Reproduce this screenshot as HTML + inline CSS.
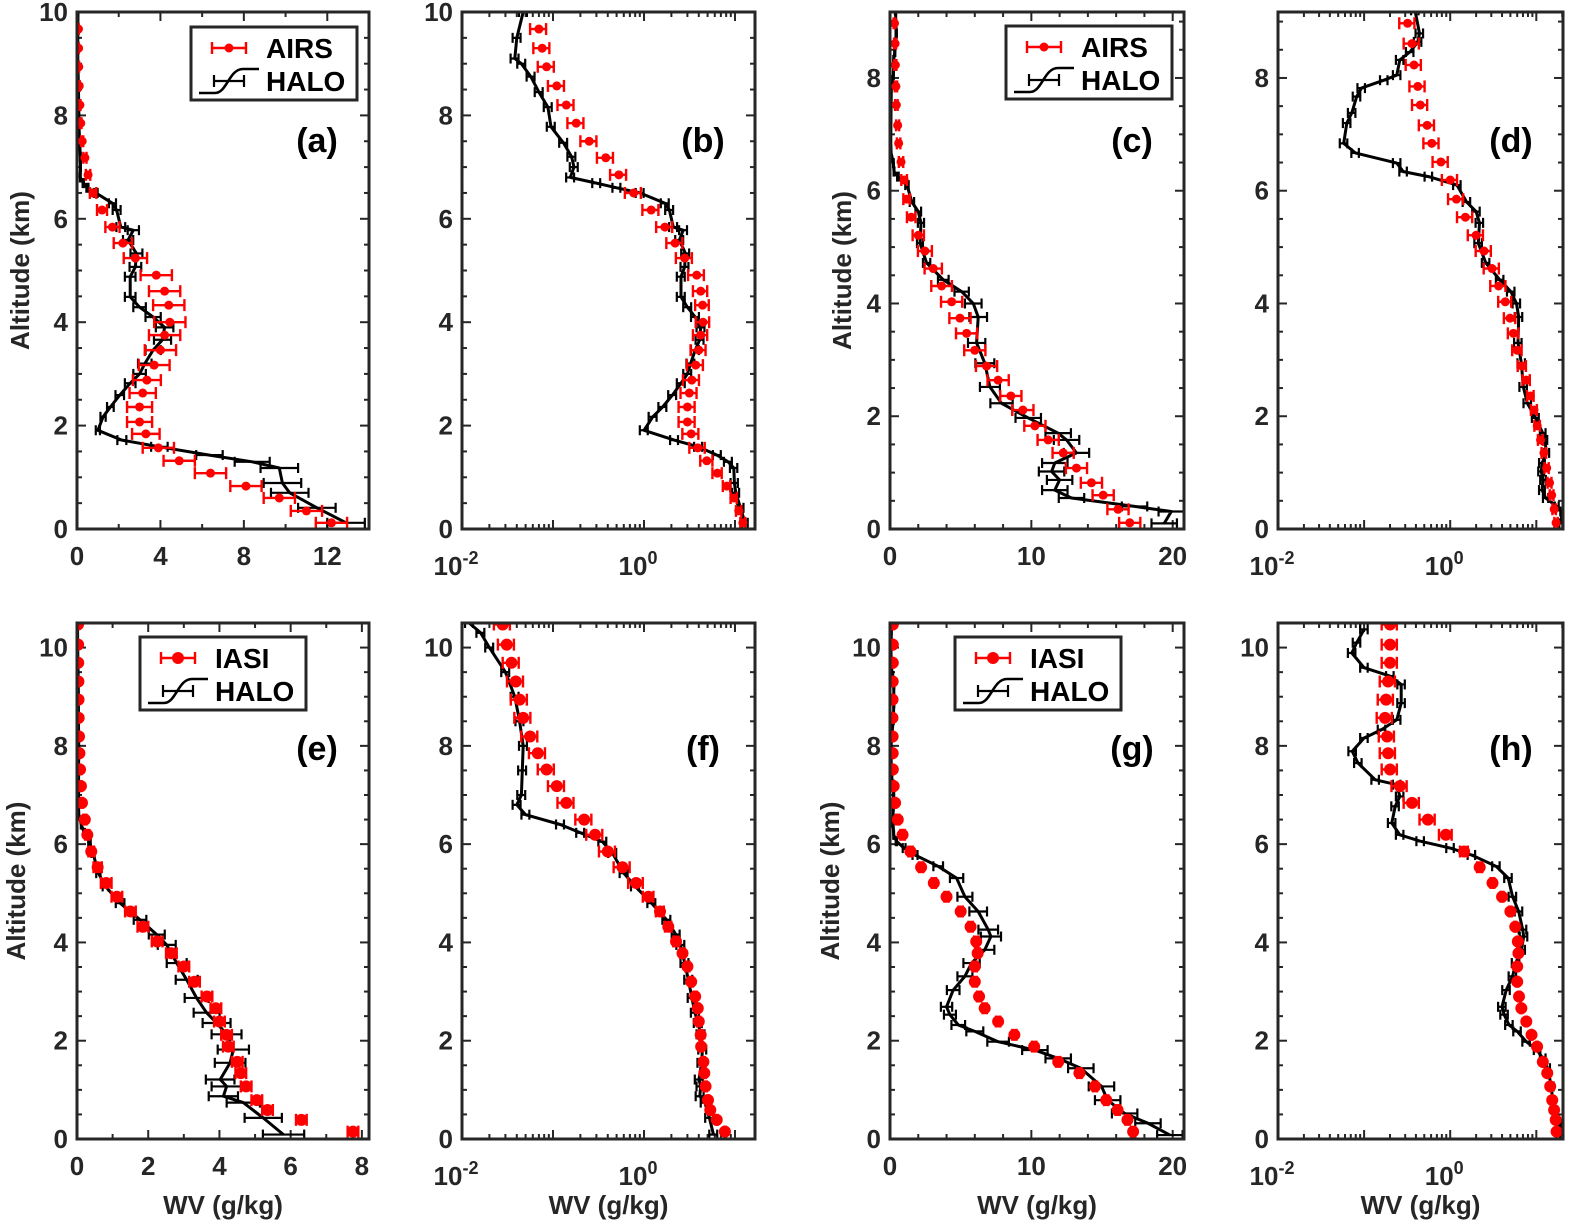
<!DOCTYPE html>
<html><head><meta charset="utf-8"><style>
html,body{margin:0;padding:0;background:#fff;}
svg{display:block;font-family:"Liberation Sans",Arial,sans-serif;}
</style></head><body>
<svg id="fig" width="1572" height="1229" viewBox="0 0 1572 1229"></svg>
<script>
// ---- Case 1 (panels a,b): AIRS vs HALO ----
const c1SatAlt=[9.67,9.30,8.94,8.57,8.20,7.85,7.50,7.18,6.85,6.5,6.17,5.84,5.53,5.24,4.91,4.6,4.33,4.0,3.75,3.46,3.17,2.88,2.63,2.36,2.07,1.84,1.57,1.32,1.08,0.83,0.6,0.35,0.12];
const c1SatWv=[0.07,0.076,0.085,0.11,0.14,0.18,0.25,0.38,0.53,0.77,1.2,1.7,2.2,2.8,3.8,4.2,4.4,4.45,4.2,4.0,3.7,3.35,3.15,3.0,3.0,3.3,3.9,4.9,6.4,8.1,9.7,11.0,12.2];
const c1HaloAlt=[10,9.5,9.1,9.0,8.75,8.45,8.16,7.78,7.47,7.2,7.0,6.8,6.69,6.6,6.5,6.3,6.17,5.84,5.78,5.59,5.33,5.07,4.88,4.49,4.29,4.1,3.9,3.66,3.46,3.2,3.0,2.82,2.59,2.36,2.17,1.91,1.72,1.59,1.43,1.3,1.18,0.89,0.7,0.41,0.12];
const c1HaloWv=[0.047,0.040,0.038,0.045,0.057,0.07,0.088,0.095,0.13,0.16,0.17,0.155,0.3,0.5,0.9,1.7,1.9,2.1,2.7,2.45,2.85,2.8,2.55,2.55,3.0,3.65,4.2,4.1,3.65,3.25,3.0,2.55,2.05,1.6,1.25,1.0,2.15,3.95,6.35,8.4,9.7,9.85,10.2,11.5,12.9];
// ---- Case 2 (panels c,d): AIRS vs HALO ----
const c2SatAlt=[8.97,8.61,8.23,7.85,7.52,7.16,6.84,6.51,6.19,5.85,5.53,5.21,4.93,4.62,4.31,4.03,3.74,3.47,3.17,2.89,2.64,2.36,2.11,1.83,1.58,1.35,1.08,0.82,0.6,0.35,0.11];
const c2SatWv=[0.32,0.36,0.38,0.42,0.45,0.54,0.61,0.78,1.0,1.18,1.5,2.0,2.47,3.06,3.65,4.36,4.95,5.42,6.0,6.83,7.65,8.55,9.4,10.25,11.19,12.25,13.19,14.25,15.08,16.13,16.96];
const c2HaloAlt=[9.2,8.79,8.64,8.46,8.32,8.05,7.96,7.82,7.67,7.38,7.2,6.84,6.67,6.49,6.34,6.25,6.1,5.8,5.63,5.43,5.07,4.72,4.42,4.21,4.0,3.76,3.3,2.94,2.52,2.23,1.97,1.7,1.58,1.35,1.17,1.02,0.87,0.69,0.55,0.4,0.31,0.1];
const c2HaloWv=[0.39,0.44,0.42,0.34,0.26,0.24,0.17,0.093,0.082,0.072,0.063,0.058,0.079,0.24,0.285,0.56,1.2,1.55,2.0,2.19,2.12,2.59,3.77,5.07,5.89,6.24,6.13,6.71,7.07,7.89,9.78,11.9,12.49,13.19,11.66,11.43,12.0,11.66,12.84,17.3,19.9,19.4];
// ---- Case 3 (panels e,f): IASI vs HALO ----
const c3SatAlt=[10.47,10.06,9.69,9.31,8.94,8.57,8.19,7.85,7.52,7.18,6.84,6.50,6.19,5.85,5.53,5.21,4.93,4.63,4.32,4.02,3.78,3.51,3.20,2.90,2.66,2.39,2.12,1.88,1.57,1.34,1.07,0.79,0.59,0.39,0.15];
const c3SatWv=[0.028,0.031,0.035,0.039,0.043,0.047,0.056,0.068,0.085,0.11,0.14,0.22,0.29,0.40,0.58,0.82,1.12,1.5,1.85,2.25,2.65,3.0,3.3,3.65,3.9,4.0,4.2,4.25,4.5,4.6,4.75,5.05,5.35,6.3,7.75];
const c3HaloAlt=[10.5,10.3,10.0,9.5,9.0,8.5,8.0,7.5,7.0,6.8,6.6,6.4,6.23,6.05,5.82,5.41,5.14,4.8,4.46,4.16,3.95,3.58,3.24,2.87,2.57,2.36,2.13,1.82,1.55,1.21,1.07,0.87,0.74,0.43,0.09];
const c3HaloWv=[0.012,0.016,0.02,0.03,0.038,0.043,0.047,0.046,0.045,0.04,0.05,0.12,0.2,0.35,0.45,0.6,0.8,1.21,1.77,2.24,2.52,2.8,3.08,3.36,3.64,3.92,4.2,4.39,4.3,4.02,4.2,4.11,4.67,5.23,5.8];
// ---- Case 4 (panels g,h): IASI vs HALO ----
const c4SatAlt=[10.47,10.06,9.69,9.31,8.94,8.57,8.19,7.85,7.52,7.18,6.84,6.50,6.19,5.85,5.53,5.21,4.93,4.63,4.32,4.02,3.78,3.51,3.20,2.90,2.66,2.39,2.12,1.88,1.57,1.34,1.07,0.79,0.59,0.39,0.15];
const c4SatWv=[0.20,0.20,0.20,0.19,0.18,0.175,0.185,0.19,0.20,0.26,0.36,0.55,0.89,1.45,2.2,3.1,4.0,5.0,5.7,6.1,6.2,6.0,6.0,6.3,6.7,7.65,8.8,10.2,11.9,13.4,14.5,15.3,16.1,16.8,17.2];
const c4HaloAlt=[10.37,10.1,9.89,9.59,9.42,9.25,8.87,8.53,8.33,8.16,7.89,7.65,7.31,7.21,6.97,6.77,6.43,6.19,6.06,5.92,5.78,5.55,5.31,4.93,4.63,4.26,4.12,3.85,3.58,3.31,3.03,2.69,2.53,2.32,2.19,1.98,1.81,1.64,1.44,1.07,0.79,0.52,0.32,0.08];
const c4HaloWv=[0.10,0.082,0.072,0.10,0.20,0.27,0.27,0.24,0.16,0.10,0.073,0.085,0.135,0.24,0.26,0.23,0.21,0.26,0.45,1.0,1.77,3.41,4.71,5.3,6.24,6.95,7.14,6.71,5.77,5.3,4.47,4.0,4.24,4.83,6.0,7.65,10.25,11.9,13.5,14.96,15.4,16.6,18.25,19.8];

const linTicksA=[0,4,8,12], linTicksC=[0,10,20], linTicksE=[0,2,4,6,8];
const yTicksTop10=[0,2,4,6,8,10], yTicksTop8=[0,2,4,6,8];

const NS="http://www.w3.org/2000/svg";
const svg=document.getElementById('fig');
const INK="#262626";
function mk(tag,attrs,parent){const e=document.createElementNS(NS,tag);for(const k in attrs)e.setAttribute(k,attrs[k]);(parent||svg).appendChild(e);return e;}

const panels=[
 {id:'a',x0:77,x1:369,y0:12,y1:529,log:false,xmin:0,xmax:14,xt:linTicksA,xminor:2,ymax:10,yt:yTicksTop10,sAlt:c1SatAlt,sWv:c1SatWv,hAlt:c1HaloAlt,hWv:c1HaloWv,sat:'AIRS',r:4.5,errMax:0.75,legend:[191,27],ytitle:20,top:true},
 {id:'b',x0:462,x1:755,y0:12,y1:529,log:true,lmin:-2,lmax:1.22,ymax:10,yt:yTicksTop10,sAlt:c1SatAlt,sWv:c1SatWv,hAlt:c1HaloAlt,hWv:c1HaloWv,sat:'AIRS',r:4.5,errMax:0.75,top:true},
 {id:'c',x0:890,x1:1184,y0:12,y1:529,log:false,xmin:0,xmax:20.8,xt:linTicksC,xminor:2,ymax:9.17,yt:yTicksTop8,sAlt:c2SatAlt,sWv:c2SatWv,hAlt:c2HaloAlt,hWv:c2HaloWv,sat:'AIRS',r:4.5,errMax:0.75,legend:[1006,26],ytitle:842,top:true},
 {id:'d',x0:1278,x1:1563,y0:12,y1:529,log:true,lmin:-2,lmax:1.31,ymax:9.17,yt:yTicksTop8,sAlt:c2SatAlt,sWv:c2SatWv,hAlt:c2HaloAlt,hWv:c2HaloWv,sat:'AIRS',r:4.5,errMax:0.75,top:true},
 {id:'e',x0:77,x1:369,y0:623,y1:1139,log:false,xmin:0,xmax:8.2,xt:linTicksE,xminor:1,ymax:10.5,yt:yTicksTop10,sAlt:c3SatAlt,sWv:c3SatWv,hAlt:c3HaloAlt,hWv:c3HaloWv,sat:'IASI',r:6,errMax:0.15,legend:[140,637],ytitle:16,top:false},
 {id:'f',x0:462,x1:755,y0:623,y1:1139,log:true,lmin:-2,lmax:1.22,ymax:10.5,yt:yTicksTop10,sAlt:c3SatAlt,sWv:c3SatWv,hAlt:c3HaloAlt,hWv:c3HaloWv,sat:'IASI',r:6,errMax:0.15,top:false},
 {id:'g',x0:890,x1:1184,y0:623,y1:1139,log:false,xmin:0,xmax:20.8,xt:linTicksC,xminor:2,ymax:10.5,yt:yTicksTop10,sAlt:c4SatAlt,sWv:c4SatWv,hAlt:c4HaloAlt,hWv:c4HaloWv,sat:'IASI',r:6,errMax:0.15,legend:[955,637],ytitle:830,top:false},
 {id:'h',x0:1278,x1:1563,y0:623,y1:1139,log:true,lmin:-2,lmax:1.31,ymax:10.5,yt:yTicksTop10,sAlt:c4SatAlt,sWv:c4SatWv,hAlt:c4HaloAlt,hWv:c4HaloWv,sat:'IASI',r:6,errMax:0.15,top:false}
];

panels.forEach(p=>{
  const g=mk('g',{});
  
  
  const X=v=>{
    if(p.log){const lv=Math.log10(Math.max(v,1e-4));return p.x0+(lv-p.lmin)/(p.lmax-p.lmin)*(p.x1-p.x0);}
    return p.x0+(v-p.xmin)/(p.xmax-p.xmin)*(p.x1-p.x0);};
  const Y=a=>p.y1-a/p.ymax*(p.y1-p.y0);
  const clip='clip-'+p.id;
  const cp=mk('clipPath',{id:clip},g);mk('rect',{x:p.x0,y:p.y0,width:p.x1-p.x0,height:p.y1-p.y0},cp);

  const tk=mk('g',{stroke:INK,'stroke-width':2},g);
  
  
  for(let a=0;a<=p.ymax+1e-6;a+=0.5){
    const maj=Math.abs(a/2-Math.round(a/2))<1e-6, L=maj?9:5;
    mk('line',{x1:p.x0,x2:p.x0+L,y1:Y(a),y2:Y(a)},tk);
    mk('line',{x1:p.x1,x2:p.x1-L,y1:Y(a),y2:Y(a)},tk);
  }
  if(p.log){
    for(let d=Math.floor(p.lmin);d<=p.lmax;d++){
      for(let m=1;m<=9;m++){const lv=d+Math.log10(m);if(lv<p.lmin-1e-6||lv>p.lmax)continue;
        const x=p.x0+(lv-p.lmin)/(p.lmax-p.lmin)*(p.x1-p.x0),L=m===1?9:5;
        mk('line',{x1:x,x2:x,y1:p.y1,y2:p.y1-L},tk);mk('line',{x1:x,x2:x,y1:p.y0,y2:p.y0+L},tk);}
    }
  } else {
    for(let v=p.xmin;v<=p.xmax+1e-6;v+=p.xminor){
      const maj=p.xt.some(t=>Math.abs(t-v)<1e-6),L=maj?9:5,x=X(v);
      mk('line',{x1:x,x2:x,y1:p.y1,y2:p.y1-L},tk);mk('line',{x1:x,x2:x,y1:p.y0,y2:p.y0+L},tk);
    }
  }
  p.yt.forEach(a=>{const t=mk('text',{x:p.x0-9,y:Y(a)+9,'text-anchor':'end','font-size':26,'font-weight':'bold',fill:INK},g);t.textContent=a;
    });
  if(p.log){
    [-2,0].forEach(e=>{const x=p.x0+(e-p.lmin)/(p.lmax-p.lmin)*(p.x1-p.x0);
      const t=mk('text',{x:x-6,y:p.y1+46,'text-anchor':'middle','font-size':26,'font-weight':'bold',fill:INK},g);
      
      t.appendChild(document.createTextNode('10'));
      const s=mk('tspan',{'font-size':18,dy:-11},t);s.textContent=String(e);});
  } else {
    p.xt.forEach(v=>{const t=mk('text',{x:X(v),y:p.y1+36,'text-anchor':'middle','font-size':26,'font-weight':'bold',fill:INK},g);t.textContent=v;
      });
  }

  const dg=mk('g',{'clip-path':'url(#'+clip+')'},g);
  let d='';p.hAlt.forEach((a,i)=>{d+=(i?'L':'M')+X(p.hWv[i]).toFixed(1)+','+Y(p.hAlt[i]).toFixed(1);});
  const hl=mk('path',{d:d,fill:'none',stroke:'#000','stroke-width':3,'stroke-linejoin':'round'},dg);
  
  
  const hb=mk('g',{stroke:'#000','stroke-width':2.2},dg);
  
  
  p.hAlt.forEach((a,i)=>{const v=p.hWv[i],e=Math.min(0.1*v,0.9),y=Y(a);
    const xa=X(Math.max(v-e,1e-4)),xb=X(v+e);
    mk('line',{x1:xa,x2:xb,y1:y,y2:y},hb);mk('line',{x1:xa,x2:xa,y1:y-5,y2:y+5},hb);mk('line',{x1:xb,x2:xb,y1:y-5,y2:y+5},hb);});
  const sg=mk('g',{},dg);
  
  
  p.sAlt.forEach((a,i)=>{const v=p.sWv[i],e=Math.min(0.2*v,p.errMax),y=Y(a),xa=X(v-e),xb=X(v+e);
    mk('line',{x1:xa,x2:xb,y1:y,y2:y,stroke:'#f00','stroke-width':2.4},sg);
    mk('line',{x1:xa,x2:xa,y1:y-6,y2:y+6,stroke:'#f00','stroke-width':2.4},sg);
    mk('line',{x1:xb,x2:xb,y1:y-6,y2:y+6,stroke:'#f00','stroke-width':2.4},sg);
    const c=mk('circle',{cx:X(v),cy:y,r:p.r,fill:'#f00'},sg);
    
    });

  const fr=mk('rect',{x:p.x0,y:p.y0,width:p.x1-p.x0,height:p.y1-p.y0,fill:'none',stroke:INK,'stroke-width':3},g);
  
  

  const pl=mk('text',{x:p.x1-52,y:p.top?152:760,'text-anchor':'middle','font-size':34,'font-weight':'bold',fill:'#000'},g);
  pl.textContent='('+p.id+')';
  
  

  if(p.ytitle!==undefined){
    const cy=(p.y0+p.y1)/2;
    const yt=mk('text',{x:p.ytitle,y:cy,'text-anchor':'middle','font-size':26,'font-weight':'bold',fill:INK,transform:'rotate(-90 '+p.ytitle+' '+cy+') translate(0 9)'},g);
    yt.textContent='Altitude (km)';
    
    
  }
  if(!p.top){
    const xt=mk('text',{x:(p.x0+p.x1)/2,y:1214,'text-anchor':'middle','font-size':26,'font-weight':'bold',fill:INK},g);
    xt.textContent='WV (g/kg)';
    
    
  }

  if(p.legend){
    const [lx,ly]=p.legend;
    const lg=mk('g',{},g);
    
    
    mk('rect',{x:lx,y:ly,width:166,height:73,fill:'#fff',stroke:INK,'stroke-width':3},lg);
    const r1=ly+21,r2=ly+54;
    mk('line',{x1:lx+21,x2:lx+55,y1:r1,y2:r1,stroke:'#f00','stroke-width':2.4},lg);
    mk('line',{x1:lx+21,x2:lx+21,y1:r1-6,y2:r1+6,stroke:'#f00','stroke-width':2.4},lg);
    mk('line',{x1:lx+55,x2:lx+55,y1:r1-6,y2:r1+6,stroke:'#f00','stroke-width':2.4},lg);
    mk('circle',{cx:lx+38,cy:r1,r:p.r,fill:'#f00'},lg);
    const t1=mk('text',{x:lx+75,y:r1+10,'font-size':28,'font-weight':'bold',fill:'#000'},lg);t1.textContent=p.sat;
    
    
    mk('path',{d:`M${lx+8},${r2+12} L${lx+24},${r2+12} C${lx+36},${r2+12} ${lx+38},${r2-12} ${lx+52},${r2-12} L${lx+68},${r2-12}`,fill:'none',stroke:'#000','stroke-width':2.6},lg);
    mk('line',{x1:lx+23,x2:lx+53,y1:r2,y2:r2,stroke:'#000','stroke-width':2.2},lg);
    mk('line',{x1:lx+23,x2:lx+23,y1:r2-6,y2:r2+6,stroke:'#000','stroke-width':2.2},lg);
    mk('line',{x1:lx+53,x2:lx+53,y1:r2-6,y2:r2+6,stroke:'#000','stroke-width':2.2},lg);
    const t2=mk('text',{x:lx+75,y:r2+10,'font-size':28,'font-weight':'bold',fill:'#000'},lg);t2.textContent='HALO';
    
    
  }
});
</script>
</body></html>
